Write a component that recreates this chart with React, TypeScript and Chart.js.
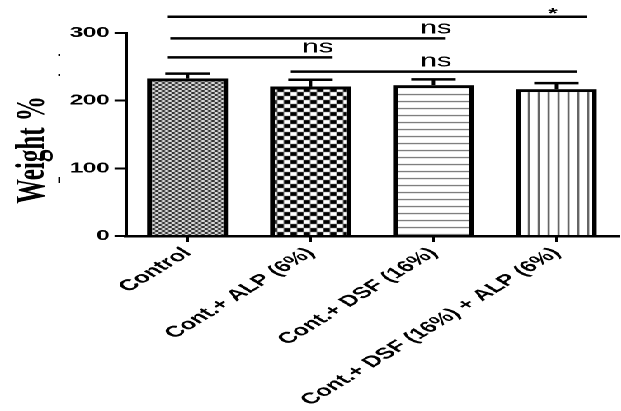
import React, { useEffect, useRef } from 'react';
import { Chart, registerables } from 'chart.js';

Chart.register(...registerables);

// ---- data ----
const categories = ['Control', 'Cont.+ ALP (6%)', 'Cont.+ DSF (16%)', 'Cont.+ DSF (16%) + ALP (6%)'];
const means = [233, 221, 223, 217];
const errors = [7, 10, 8.5, 9];
const yTicks = [0, 100, 200, 300];
const yTitle = 'Weight %';
const patternKinds = ['fineChecker', 'checker', 'hLines', 'vLines'];

// significance brackets (category-index positions, value level, label)
const bracketFrom = [-0.16, -0.14, -0.16, 0.84];
const bracketTo = [3.25, 2.1, 1.18, 3.17];
const bracketLevel = [324, 292, 264, 243];
const bracketLabel = ['*', 'ns', 'ns', 'ns'];
const bracketLabelAt = [2.97, 2.02, 1.06, 2.02];

const S = 1.65; // horizontal stretch of the figure
const W = Math.round(621 / S);
const H = 411;

function makePattern(kind: string): CanvasPattern | string {
  const c = document.createElement('canvas');
  const g = c.getContext('2d')!;
  if (kind === 'fineChecker') {
    c.width = 4; c.height = 4;
    g.fillStyle = '#f4f4f4'; g.fillRect(0, 0, 4, 4);
    g.fillStyle = '#1a1a1a';
    g.fillRect(0, 0, 2, 2); g.fillRect(2, 2, 2, 2);
  } else if (kind === 'checker') {
    c.width = 8; c.height = 8;
    g.fillStyle = '#ffffff'; g.fillRect(0, 0, 8, 8);
    g.fillStyle = '#000000';
    g.fillRect(0, 0, 4, 4); g.fillRect(4, 4, 4, 4);
  } else if (kind === 'hLines') {
    c.width = 4; c.height = 7;
    g.fillStyle = '#ffffff'; g.fillRect(0, 0, 4, 7);
    g.fillStyle = '#555555'; g.fillRect(0, 3, 4, 1);
  } else {
    c.width = 6; c.height = 4;
    g.fillStyle = '#ffffff'; g.fillRect(0, 0, 6, 4);
    g.fillStyle = '#333333'; g.fillRect(2, 0, 1, 4);
  }
  return g.createPattern(c, 'repeat') || '#888';
}

const annotations = {
  id: 'annotations',
  afterDatasetsDraw(chart: any) {
    const ctx = chart.ctx;
    const x = chart.scales.x;
    const y = chart.scales.y;
    const meta = chart.getDatasetMeta(0);
    ctx.save();
    ctx.strokeStyle = '#000';
    ctx.fillStyle = '#000';
    // error bars
    meta.data.forEach((el: any, i: number) => {
      const top = y.getPixelForValue(means[i]);
      const cap = y.getPixelForValue(means[i] + errors[i]);
      ctx.lineWidth = 2;
      ctx.beginPath();
      ctx.moveTo(el.x, top);
      ctx.lineTo(el.x, cap);
      ctx.stroke();
      ctx.lineWidth = 2.5;
      ctx.beginPath();
      ctx.moveTo(el.x - 13.5, cap);
      ctx.lineTo(el.x + 13.5, cap);
      ctx.stroke();
    });
    // brackets
    bracketLevel.forEach((lv, i) => {
      const py = y.getPixelForValue(lv);
      ctx.lineWidth = 2.5;
      ctx.beginPath();
      ctx.moveTo(x.getPixelForValue(bracketFrom[i]), py);
      ctx.lineTo(x.getPixelForValue(bracketTo[i]), py);
      ctx.stroke();
      const lx = x.getPixelForValue(bracketLabelAt[i]);
      ctx.textAlign = 'center';
      ctx.textBaseline = 'alphabetic';
      if (bracketLabel[i] === '*') {
        ctx.font = 'bold 15px "Liberation Sans", Arial, sans-serif';
        ctx.fillText(bracketLabel[i], lx, py + 1);
      } else {
        ctx.font = 'normal 18px "Liberation Sans", Arial, sans-serif';
        ctx.fillText(bracketLabel[i], lx, py - 5);
      }
    });
    // y-axis title (sits a little below the plot centre in the figure)
    ctx.save();
    ctx.translate(20, 150);
    ctx.rotate(-Math.PI / 2);
    ctx.textAlign = 'center';
    ctx.textBaseline = 'middle';
    ctx.font = 'bold 25px "Liberation Serif", "Times New Roman", serif';
    ctx.fillText(yTitle, 0, 0);
    ctx.restore();
    // faint stray marks next to the axis title
    ctx.fillRect(35.3, 54, 1.2, 2);
    ctx.fillRect(35.3, 74, 1.2, 2);
    ctx.fillRect(35.3, 177, 1.2, 6);
    ctx.restore();
  },
};

export default function App() {
  const ref = useRef<HTMLCanvasElement | null>(null);
  useEffect(() => {
    if (!ref.current) return;
    const chart = new Chart(ref.current, {
      type: 'bar',
      data: {
        labels: categories,
        datasets: [
          {
            data: means,
            backgroundColor: patternKinds.map(makePattern) as any,
            borderColor: '#000',
            borderWidth: 3,
            barPercentage: 0.66,
            categoryPercentage: 1,
          },
        ],
      },
      options: {
        responsive: false,
        animation: false,
        devicePixelRatio: 2,
        layout: { padding: { top: 33, right: 1.5, left: 0, bottom: 0 } },
        plugins: { legend: { display: false }, tooltip: { enabled: false } },
        scales: {
          x: {
            grid: { display: true, drawOnChartArea: false, drawTicks: true, tickLength: 6, color: '#000', lineWidth: 1.5, offset: false },
            border: { display: true, color: '#000', width: 2.5 },
            ticks: {
              color: '#000',
              autoSkip: false,
              minRotation: 45,
              maxRotation: 45,
              padding: 2,
              font: { family: '"Liberation Sans", Arial, sans-serif', weight: 'bold', size: 15.5 },
            },
            afterFit: (s: any) => { s.height = H - 236; },
          },
          y: {
            min: 0,
            max: 300,
            grid: { display: true, drawOnChartArea: false, drawTicks: true, tickLength: 7, color: '#000', lineWidth: 2 },
            border: { display: true, color: '#000', width: 2 },
            afterBuildTicks: (s: any) => { s.ticks = yTicks.map((v) => ({ value: v })); },
            ticks: {
              color: '#000',
              padding: 3,
              font: { family: '"Liberation Sans", Arial, sans-serif', weight: 'bold', size: 14.5 },
            },
            title: { display: false },
            afterFit: (s: any) => { s.width = 76.4; },
          },
        },
      },
      plugins: [annotations],
    });
    return () => chart.destroy();
  }, []);
  return (
    <div style={{ position: 'absolute', left: 0, top: 0, width: W, height: H, transform: `scaleX(${S})`, transformOrigin: '0 0', background: '#fff' }}>
      <canvas ref={ref} width={W} height={H} style={{ display: 'block', width: W, height: H }} />
    </div>
  );
}
